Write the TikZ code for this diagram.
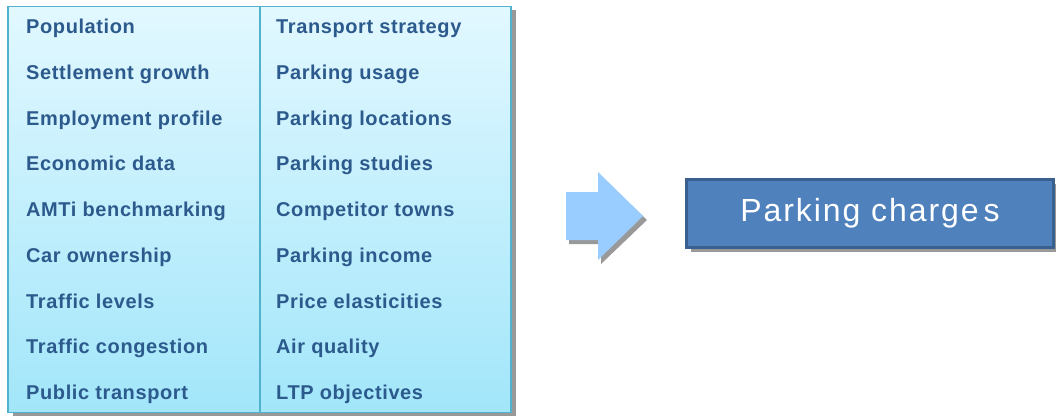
\documentclass[tikz,border=0pt]{standalone}
\usepackage{fontspec}
\setmainfont{Liberation Sans}
\newfontfamily\itemfont{Liberation Sans}[LetterSpace=3]
\newfontfamily\titlefont{Liberation Sans}[LetterSpace=6]
\usetikzlibrary{shadows}
\definecolor{txtblue}{HTML}{2C5A8C}
\definecolor{boxtop}{HTML}{E2F8FF}
\definecolor{boxbot}{HTML}{A2E6FA}
\definecolor{boxline}{HTML}{52B2CE}
\definecolor{arrowfill}{HTML}{99CCFF}
\definecolor{resfill}{HTML}{4F81BD}
\definecolor{resline}{HTML}{3A6090}
\begin{document}
\begin{tikzpicture}[x=1pt,y=-1pt,
  mainbox/.style={draw=boxline,line width=1.8pt,top color=boxtop,bottom color=boxbot,
    minimum width=503pt,minimum height=406pt,inner sep=0pt,
    drop shadow={shadow xshift=5pt,shadow yshift=-3pt,fill=black,opacity=0.4}},
  item/.style={anchor=base west,inner sep=0pt,text=txtblue,font=\itemfont\bfseries\fontsize{20}{22}\selectfont},
  resbox/.style={draw=resline,line width=2.5pt,fill=resfill,minimum width=367pt,minimum height=68pt,inner sep=0pt,
    text=white,font=\titlefont\fontsize{32}{35}\selectfont,
    drop shadow={shadow xshift=4pt,shadow yshift=-4pt,fill=black,opacity=0.4}}
]
\useasboundingbox (0,0) rectangle (1056,416);
% main box
\node[mainbox] (box) at (259.5,209.5) {};
\draw[boxline,line width=1.3pt] (box.north west -| 260,0) coordinate (dtop) -- (box.south west -| 260,0) coordinate (dbot);
% left column
\foreach \t [count=\i from 0] in {Population,Settlement growth,Employment profile,Economic data,AMTi benchmarking,Car ownership,Traffic levels,Traffic congestion,Public transport}
  \node[item] (l\i) at (26,{33.8+45.7*\i}) {\t};
% right column
\foreach \t [count=\i from 0] in {Transport strategy,Parking usage,Parking locations,Parking studies,Competitor towns,Parking income,Price elasticities,Air quality,LTP objectives}
  \node[item] (r\i) at (276,{33.8+45.7*\i}) {\t};
% block arrow with shadow
\fill[black,opacity=0.4] (569,196) -- (601,196) -- (601,176) -- (647,220) -- (601,264) -- (601,244) -- (569,244) -- cycle;
\fill[arrowfill] (566,192) -- (598,192) -- (598,172) -- (643,216) -- (598,260) -- (598,240) -- (566,240) -- cycle;
% result box
\node[resbox] (res) at (870,213.5) {Parking charge\hspace{5pt}s};
\end{tikzpicture}
\end{document}
